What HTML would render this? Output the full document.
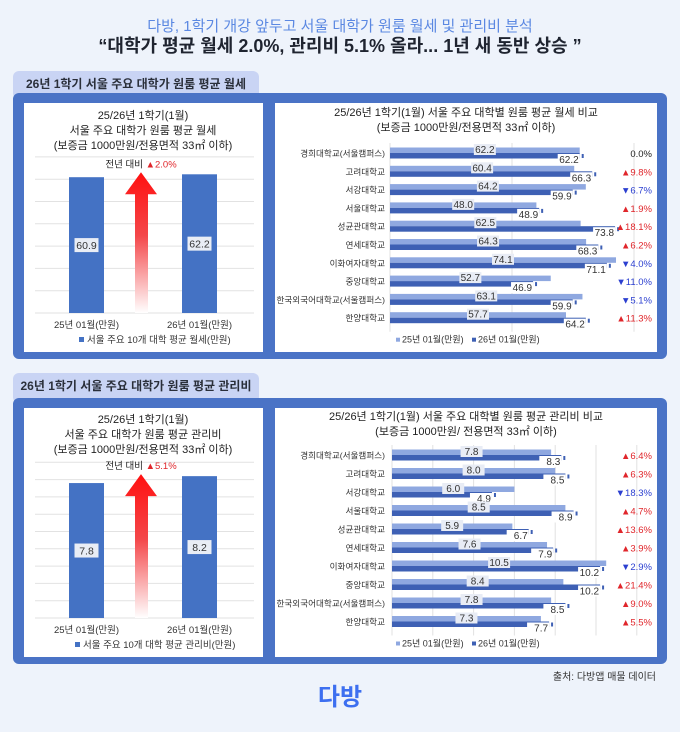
<!DOCTYPE html>
<html><head><meta charset="utf-8">
<style>
body{margin:0;width:680px;height:727px;background:#eef3fb;overflow:hidden;font-family:"Liberation Sans","Noto Sans CJK KR",sans-serif;}
svg text{font-family:"Liberation Sans","Noto Sans CJK KR",sans-serif;}
</style></head>
<body>
<svg id="page" width="680" height="727" viewBox="0 0 680 727" xmlns="http://www.w3.org/2000/svg">
<defs>
<linearGradient id="arrowGrad" x1="0" y1="0" x2="0" y2="1">
<stop offset="0" stop-color="#ff1010"/><stop offset="0.45" stop-color="#f4474a"/><stop offset="1" stop-color="#ffffff"/>
</linearGradient>
</defs>
<rect width="680" height="727" fill="#eef3fb"/>
<text x="340" y="31" text-anchor="middle" font-size="15" fill="#5b88e2">다방, 1학기 개강 앞두고 서울 대학가 원룸 월세 및 관리비 분석</text>
<text x="340" y="52" text-anchor="middle" font-size="18" font-weight="bold" fill="#1f2430">“대학가 평균 월세 2.0%, 관리비 5.1% 올라... 1년 새 동반 상승 ”</text>

<g>
<rect x="13" y="71" width="246" height="28" rx="6" fill="#c9d4f4"/>
<text x="136" y="88" text-anchor="middle" font-size="12" font-weight="bold" fill="#2a2f3a">26년 1학기 서울 주요 대학가 원룸 평균 월세</text>
<rect x="13" y="93" width="654" height="266" rx="6" fill="#4a73c6"/>
<rect x="24" y="103" width="239" height="249" fill="#fff"/>
<rect x="275" y="103" width="382" height="249" fill="#fff"/>
</g>
<g>
<rect x="13" y="373" width="246" height="30" rx="6" fill="#c9d4f4"/>
<text x="136" y="390" text-anchor="middle" font-size="12" font-weight="bold" fill="#2a2f3a">26년 1학기 서울 주요 대학가 원룸 평균 관리비</text>
<rect x="13" y="398" width="654" height="266" rx="6" fill="#4a73c6"/>
<rect x="24" y="408" width="239" height="249" fill="#fff"/>
<rect x="275" y="408" width="382" height="249" fill="#fff"/>
</g>

<g id="charts"></g>
<text x="656" y="680" text-anchor="end" font-size="10" fill="#333">출처: 다방앱 매물 데이터</text>
<text x="340" y="705" text-anchor="middle" font-size="24" font-weight="bold" fill="#3d6ff0">다방</text>
</svg>
<script>
const NS="http://www.w3.org/2000/svg";
const root=document.getElementById('charts');
function el(tag,attrs,parent,txt){const e=document.createElementNS(NS,tag);for(const k in attrs)e.setAttribute(k,attrs[k]);if(txt!==undefined)e.textContent=txt;(parent||root).appendChild(e);return e;}

// ---- data ----
const universities=["경희대학교(서울캠퍼스)","고려대학교","서강대학교","서울대학교","성균관대학교","연세대학교","이화여자대학교","중앙대학교","한국외국어대학교(서울캠퍼스)","한양대학교"];
const rent25=[62.2,60.4,64.2,48.0,62.5,64.3,74.1,52.7,63.1,57.7];
const rent26=[62.2,66.3,59.9,48.9,73.8,68.3,71.1,46.9,59.9,64.2];
const rentChange=["0.0%","▲9.8%","▼6.7%","▲1.9%","▲18.1%","▲6.2%","▼4.0%","▼11.0%","▼5.1%","▲11.3%"];
const fee25=[7.8,8.0,6.0,8.5,5.9,7.6,10.5,8.4,7.8,7.3];
const fee26=[8.3,8.5,4.9,8.9,6.7,7.9,10.2,10.2,8.5,7.7];
const feeChange=["▲6.4%","▲6.3%","▼18.3%","▲4.7%","▲13.6%","▲3.9%","▼2.9%","▲21.4%","▲9.0%","▲5.5%"];
const avgCats=["25년 01월(만원)","26년 01월(만원)"];
const avgRent=[60.9,62.2];
const avgFee=[7.8,8.2];
const rentTicks=[0,10,20,30,40,50,60,70];
const feeTicks=[0,1,2,3,4,5,6,7,8,9];
const rentXTicks=[0,40,80];
const feeXTicks=[0,2,4,6,8,10,12];

function avgChart(o){
  const g=el('g',{});
  
  
  o.titles.forEach((t,i)=>{el('text',{x:143,y:o.titleY+i*15,'text-anchor':'middle','font-size':11,fill:'#222'},g,t);});
  const y=v=>o.base-(v-0)*o.unit;
  o.ticks.forEach(t=>{const l=el('line',{x1:35,x2:254,y1:y(t),y2:y(t),stroke:'#e2e2e2','stroke-width':1},g);});
  const xs=[86.5,199.5];
  const topY=y(Math.max(...o.values))-2;
  const a=el('path',{d:`M141 ${topY} L157 ${topY+22} L148 ${topY+22} L148 ${o.base} L135 ${o.base} L135 ${topY+22} L125 ${topY+22} Z`,fill:'url(#arrowGrad)'},g);
  
  const ct=el('text',{x:141,y:topY-5,'text-anchor':'middle','font-size':9.5,fill:'#222'},g);
  
  el('tspan',{},ct,'전년 대비 ');el('tspan',{fill:'#e0262b'},ct,o.change);
  o.values.forEach((v,i)=>{
    const b=el('rect',{x:xs[i]-17.5,y:y(v),width:35,height:o.base-y(v),fill:'#4472c4'},g);
    
    const my=(y(v)+o.base)/2;
    el('rect',{x:xs[i]-12,y:my-7,width:24,height:14,fill:'#e9edf5'},g);
    const lt=el('text',{x:xs[i],y:my+4,'text-anchor':'middle','font-size':10.5,fill:'#333'},g,v.toFixed(1));
    
    const xl=el('text',{x:xs[i],y:o.base+15,'text-anchor':'middle','font-size':9.5,fill:'#333'},g,avgCats[i]);
    
  });
  const lg=el('g',{},g);
  el('rect',{x:o.legendX,y:o.base+24,width:5,height:5,fill:'#4472c4'},lg);
  el('text',{x:o.legendX+8,y:o.base+30,'font-size':9.5,fill:'#333'},lg,o.legend);
}

function compChart(o){
  const g=el('g',{});
  
  
  o.titles.forEach((t,i)=>{el('text',{x:466,y:o.titleY+i*15,'text-anchor':'middle','font-size':11,fill:'#222'},g,t);});
  const x=v=>o.x0+v*o.unit;
  const rowY=i=>o.row0+i*o.rowStep;
  o.xticks.forEach(t=>{if(x(t)<645){const l=el('line',{x1:x(t),x2:x(t),y1:rowY(0)-10,y2:rowY(9)+14,stroke:'#e2e2e2'},g);}});
  universities.forEach((u,i)=>{
    const cy=rowY(i);
    const cl=el('text',{x:385,y:cy+3.5,'text-anchor':'end','font-size':8.6,fill:'#333'},g,u);
    
    const b1=el('rect',{x:x(0),y:cy-5.5,width:x(o.a[i])-x(0),height:5.5,fill:'#8fa8e0'},g);
    
    const b2=el('rect',{x:x(0),y:cy,width:x(o.b[i])-x(0),height:5.5,fill:'#3e60b4'},g);
    
    el('rect',{x:x(o.b[i])+2,y:cy+1,width:2,height:4,fill:'#3e60b4'},g);
    const mx=(x(0)+x(o.a[i]))/2;
    el('rect',{x:mx-11,y:cy-9,width:22,height:11,fill:'#e8ecf5'},g);
    const l1=el('text',{x:mx,y:cy,'text-anchor':'middle','font-size':10,fill:'#333'},g,o.a[i].toFixed(1));
    
    const ex=x(o.b[i]);
    el('rect',{x:ex-22,y:cy+1,width:22,height:11,fill:'#fff'},g);
    const l2=el('text',{x:ex-1,y:cy+10,'text-anchor':'end','font-size':10,fill:'#333'},g,o.b[i].toFixed(1));
    
    const c=o.chg[i];
    const col=c[0]==='▲'?'#e0262b':(c[0]==='▼'?'#2b3fd0':'#222');
    const ch=el('text',{x:652,y:cy+4,'text-anchor':'end','font-size':9.5,fill:col},g,c);
    
  });
  const ly=rowY(9)+25;
  const lg=el('g',{},g);
  el('rect',{x:396,y:ly-5,width:4,height:4,fill:'#8fa8e0'},lg);
  el('text',{x:402,y:ly,'font-size':9,fill:'#333'},lg,'25년 01월(만원)');
  el('rect',{x:472,y:ly-5,width:4,height:4,fill:'#3e60b4'},lg);
  el('text',{x:478,y:ly,'font-size':9,fill:'#333'},lg,'26년 01월(만원)');
}

avgChart({name:'avg-rent-chart',titles:['25/26년 1학기(1월)','서울 주요 대학가 원룸 평균 월세','(보증금 1000만원/전용면적 33㎡ 이하)'],titleY:119,values:avgRent,ticks:rentTicks,base:313,unit:2.23,change:'▲2.0%',legend:'서울 주요 10개 대학 평균 월세(만원)',legendX:79});
avgChart({name:'avg-fee-chart',titles:['25/26년 1학기(1월)','서울 주요 대학가 원룸 평균 관리비','(보증금 1000만원/전용면적 33㎡ 이하)'],titleY:423,values:avgFee,ticks:feeTicks,base:618,unit:17.3,change:'▲5.1%',legend:'서울 주요 10개 대학 평균 관리비(만원)',legendX:75});
compChart({name:'rent-comparison-chart',titles:['25/26년 1학기(1월) 서울 주요 대학별 원룸 평균 월세 비교','(보증금 1000만원/전용면적 33㎡ 이하)'],titleY:116,a:rent25,b:rent26,chg:rentChange,x0:390,unit:3.05,xticks:rentXTicks,row0:153,rowStep:18.3});
compChart({name:'fee-comparison-chart',titles:['25/26년 1학기(1월) 서울 주요 대학별 원룸 평균 관리비 비교','(보증금 1000만원/ 전용면적 33㎡ 이하)'],titleY:420,a:fee25,b:fee26,chg:feeChange,x0:392,unit:20.4,xticks:feeXTicks,row0:455,rowStep:18.5});
</script>
</body></html>
